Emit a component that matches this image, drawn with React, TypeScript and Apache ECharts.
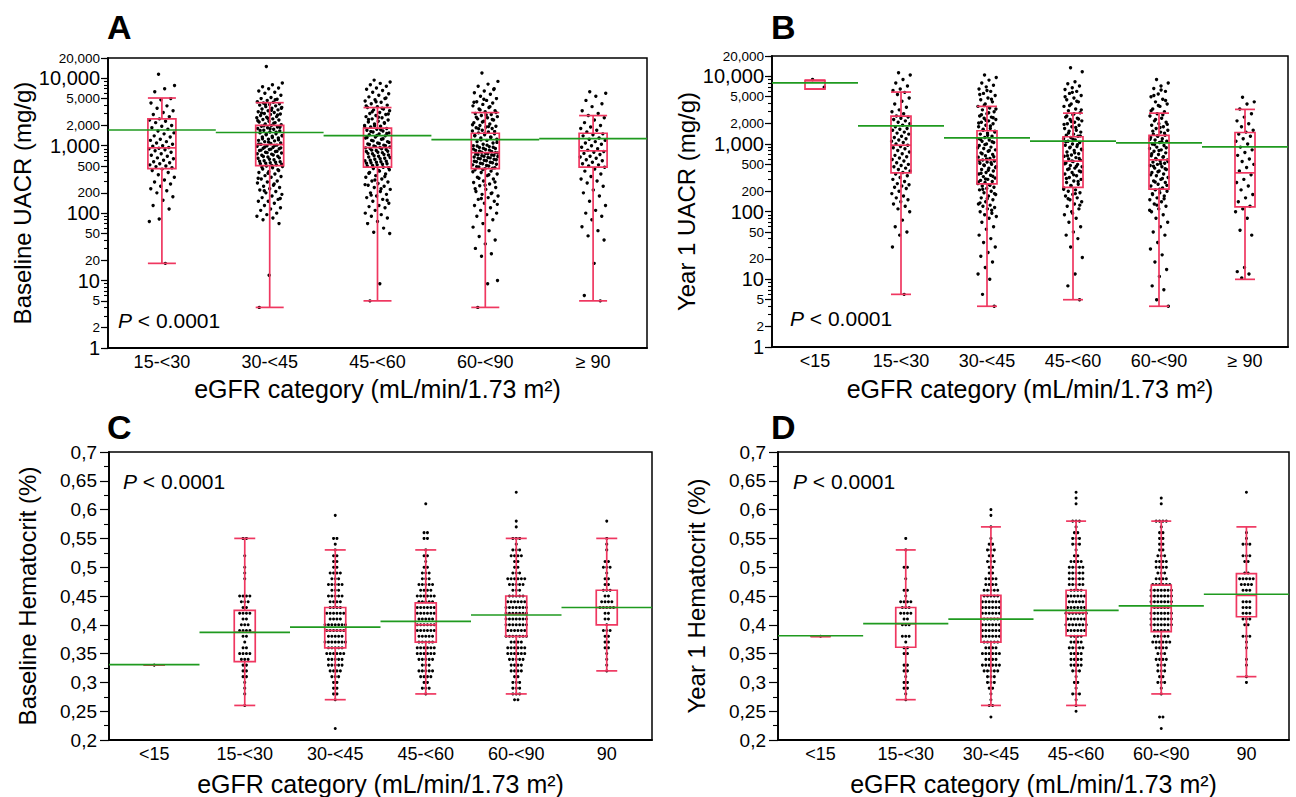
import { useEffect, useRef } from 'react';
import * as echarts from 'echarts';

const FONT = '"Liberation Sans", Arial, Helvetica, sans-serif';
const RED = '#ef3760';
const GREEN = '#1f9a1f';

// ---------- categories ----------
const catA = ['15-<30', '30-<45', '45-<60', '60-<90', '≥ 90'];
const catB = ['<15', '15-<30', '30-<45', '45-<60', '60-<90', '≥ 90'];
const catCD = ['<15', '15-<30', '30-<45', '45-<60', '60-<90', '90'];

// ---------- tick labels ----------
const uacrLabels = [1, 2, 5, 10, 20, 50, 100, 200, 500, 1000, 2000, 5000, 10000, 20000];
const UACR_MAX = 20000;
const HCT_MIN = 0.2;
const HCT_MAX = 0.7;
const HCT_STEP = 0.05;

// ---------- Panel A: baseline UACR (mg/g) ----------
const uacrA_15_30 = [11500, 7800, 7000, 6300, 5000, 4800, 4300, 3900, 3600, 3300, 3100, 2900, 2700, 2500, 2400, 2300, 2200, 2000, 1950, 1850, 1750, 1650, 1550, 1500, 1400, 1350, 1250, 1200, 1150, 1100, 1050, 1000, 980, 940, 920, 900, 870, 840, 800, 760, 720, 700, 660, 640, 610, 580, 560, 540, 520, 500, 490, 470, 450, 430, 400, 370, 340, 310, 290, 270, 250, 230, 215, 200, 175, 155, 130, 115, 82, 75, 18];
const uacrA_30_45 = [15000, 8500, 8000, 7500, 7200, 7000, 6500, 6200, 6000, 5600, 5200, 5000, 4900, 4700, 4500, 4400, 4300, 4200, 4100, 4000, 3900, 3800, 3700, 3600, 3500, 3400, 3300, 3200, 3100, 3000, 2950, 2900, 2800, 2700, 2650, 2600, 2500, 2450, 2400, 2300, 2250, 2200, 2100, 2050, 2000, 1950, 1900, 1850, 1800, 1750, 1700, 1650, 1600, 1550, 1500, 1450, 1400, 1380, 1350, 1300, 1250, 1200, 1180, 1150, 1100, 1080, 1050, 1020, 1000, 980, 950, 920, 900, 880, 850, 820, 800, 780, 750, 720, 700, 680, 650, 620, 600, 580, 560, 540, 520, 500, 490, 470, 450, 430, 410, 400, 380, 360, 350, 340, 320, 300, 290, 280, 260, 250, 240, 230, 220, 210, 200, 190, 180, 170, 160, 150, 150, 140, 130, 120, 115, 110, 100, 95, 90, 85, 80, 70, 12, 4,
  4800, 4100, 3600, 3350, 3050, 2850, 2550, 2350, 2150, 1980, 1880, 1780, 1680, 1580, 1480, 1420, 1320, 1270, 1220, 1130, 1060, 1010, 960, 930, 890, 860, 830, 790, 760, 730, 690, 660, 630, 590, 570, 550, 530, 510, 480, 440, 390, 330, 270, 215, 165];
const uacrA_45_60 = [9400, 8800, 8400, 8000, 7600, 7200, 6900, 6600, 6200, 5900, 5600, 5300, 5000, 4800, 4600, 4400, 4200, 4000, 3800, 3700, 3500, 3400, 3300, 3100, 3000, 2900, 2800, 2700, 2600, 2500, 2400, 2300, 2250, 2200, 2100, 2000, 1950, 1900, 1800, 1750, 1700, 1650, 1600, 1550, 1500, 1450, 1400, 1350, 1300, 1250, 1200, 1150, 1100, 1060, 1020, 990, 960, 940, 910, 880, 850, 820, 790, 760, 730, 700, 680, 650, 630, 600, 580, 560, 540, 520, 500, 480, 460, 440, 420, 400, 380, 360, 340, 320, 300, 290, 275, 260, 250, 240, 225, 210, 200, 190, 180, 170, 160, 150, 140, 130, 125, 120, 110, 100, 95, 90, 85, 75, 70, 60, 52, 50, 9, 5,
  5100, 4500, 3900, 3600, 3200, 2950, 2650, 2450, 2150, 1980, 1870, 1720, 1620, 1520, 1420, 1320, 1270, 1180, 1120, 1080, 1040, 1000, 970, 930, 900, 860, 830, 800, 770, 740, 710, 670, 640, 610, 590, 570, 550, 530, 510, 470, 430, 390, 350, 310, 265, 230, 185, 155];
const uacrA_60_90 = [12000, 9000, 8200, 7600, 7000, 6500, 6100, 5800, 5400, 5000, 4700, 4500, 4300, 4100, 3900, 3700, 3500, 3300, 3200, 3000, 2900, 2800, 2700, 2600, 2500, 2400, 2300, 2200, 2100, 2000, 1950, 1900, 1850, 1800, 1700, 1650, 1600, 1550, 1500, 1450, 1400, 1350, 1300, 1250, 1200, 1150, 1100, 1050, 1000, 970, 940, 910, 880, 850, 820, 800, 780, 760, 740, 720, 700, 680, 660, 640, 620, 600, 580, 560, 540, 520, 500, 485, 470, 455, 440, 420, 400, 380, 360, 340, 320, 300, 285, 270, 255, 240, 225, 210, 200, 190, 180, 170, 160, 150, 140, 130, 120, 110, 100, 95, 90, 80, 70, 62, 55, 45, 40, 35, 30, 25, 23, 10, 9, 4,
  6800, 4900, 4400, 3800, 3400, 3100, 2850, 2650, 2450, 2250, 2050, 1920, 1780, 1620, 1520, 1420, 1320, 1220, 1120, 1020, 990, 950, 920, 890, 860, 830, 790, 770, 750, 730, 710, 690, 670, 650, 630, 610, 590, 570, 550, 530, 510, 490, 465, 445, 410, 370, 330, 290, 260, 230, 195, 165, 135];
const uacrA_ge90 = [6300, 6000, 5400, 4700, 4200, 3800, 3300, 3000, 2800, 2600, 2400, 2200, 2000, 1900, 1800, 1700, 1600, 1500, 1450, 1400, 1300, 1250, 1200, 1150, 1100, 1050, 1000, 950, 900, 860, 820, 800, 770, 740, 700, 680, 650, 620, 600, 570, 540, 520, 500, 480, 450, 420, 380, 350, 320, 300, 280, 250, 220, 200, 180, 150, 130, 110, 100, 90, 80, 63, 55, 46, 40, 18, 6, 5];
const uacrA = [uacrA_15_30, uacrA_30_45, uacrA_45_60, uacrA_60_90, uacrA_ge90];
// [low whisker, Q1, median, Q3, high whisker]
const boxA = [
  [18, 457, 930, 2500, 5100],
  [4, 507, 1040, 2000, 4350],
  [5, 480, 940, 1820, 3680],
  [4, 457, 790, 1530, 3100],
  [5, 480, 840, 1530, 2800],
];
const meanA = [1710, 1570, 1410, 1230, 1275];

// ---------- Panel B: year 1 UACR (mg/g) ----------
const uacrB_lt15 = [9000, 6900];
const uacrB_15_30 = [11300, 10500, 9000, 8000, 7200, 6500, 6200, 5800, 5400, 4800, 4300, 3900, 3500, 3200, 3000, 2800, 2600, 2500, 2400, 2300, 2200, 2100, 2000, 1900, 1800, 1700, 1650, 1600, 1500, 1450, 1400, 1300, 1250, 1200, 1150, 1100, 1050, 1000, 960, 920, 880, 850, 800, 760, 720, 680, 650, 620, 590, 560, 530, 500, 480, 460, 440, 420, 400, 380, 360, 340, 320, 300, 280, 260, 250, 240, 230, 220, 200, 185, 170, 160, 150, 140, 130, 120, 110, 100, 75, 60, 50, 45, 30, 6];
const uacrB_30_45 = [10500, 9600, 8800, 8000, 7400, 7000, 6500, 6000, 5600, 5200, 4800, 4500, 4200, 3900, 3600, 3400, 3200, 3000, 2800, 2600, 2500, 2400, 2300, 2200, 2100, 2000, 1900, 1800, 1700, 1600, 1500, 1450, 1400, 1300, 1250, 1200, 1150, 1100, 1050, 1000, 950, 900, 860, 820, 780, 740, 700, 670, 640, 610, 580, 560, 540, 520, 500, 480, 460, 440, 420, 400, 380, 360, 345, 330, 315, 300, 290, 280, 270, 260, 250, 240, 230, 220, 210, 200, 190, 180, 170, 160, 150, 140, 130, 125, 120, 115, 110, 100, 95, 90, 85, 80, 70, 60, 55, 45, 40, 35, 30, 25, 22, 18, 15, 12, 10, 6, 4,
  6200, 5400, 4600, 3700, 3300, 2900, 2700, 2450, 2250, 2050, 1850, 1650, 1550, 1350, 1180, 1080, 980, 880, 800, 720, 650, 600, 570, 530, 490, 450, 410, 370, 335, 305, 275, 245, 215, 185, 155, 135, 105];
const uacrB_45_60 = [13400, 11700, 8300, 7800, 7200, 6800, 6400, 6000, 5600, 5200, 4800, 4500, 4200, 3900, 3600, 3300, 3100, 2900, 2700, 2500, 2400, 2300, 2200, 2100, 2000, 1900, 1800, 1700, 1600, 1550, 1500, 1400, 1350, 1300, 1250, 1200, 1150, 1100, 1050, 1000, 960, 920, 880, 840, 800, 760, 720, 690, 660, 630, 600, 575, 550, 525, 500, 480, 460, 440, 420, 400, 380, 360, 340, 320, 300, 285, 270, 255, 240, 225, 210, 200, 190, 180, 170, 160, 150, 140, 130, 120, 110, 100, 90, 80, 70, 60, 50, 45, 40, 30, 21, 12, 8, 5,
  5800, 5000, 4300, 3700, 3200, 2800, 2600, 2350, 2150, 1950, 1750, 1450, 1320, 1180, 1080, 980, 900, 820, 740, 670, 610, 560, 510, 470, 430, 390, 350, 310, 280, 245, 215, 185, 155, 125, 95];
const uacrB_60_90 = [9000, 8000, 7200, 6600, 6000, 5500, 5000, 4600, 4200, 3900, 3600, 3300, 3000, 2800, 2600, 2400, 2200, 2100, 2000, 1900, 1800, 1700, 1600, 1500, 1400, 1350, 1300, 1250, 1200, 1150, 1100, 1050, 1000, 950, 900, 860, 820, 780, 740, 700, 670, 640, 610, 580, 560, 540, 520, 500, 480, 460, 440, 420, 400, 380, 360, 340, 320, 300, 285, 270, 255, 240, 225, 210, 200, 190, 180, 170, 160, 150, 140, 130, 120, 110, 100, 90, 80, 70, 60, 50, 45, 35, 28, 23, 18, 14, 11, 8, 7, 5, 4,
  6300, 5200, 4400, 3700, 3100, 2700, 2300, 1950, 1750, 1550, 1450, 1320, 1180, 1080, 980, 880, 800, 720, 650, 590, 550, 510, 470, 430, 390, 350, 310, 275, 245, 215, 185, 155, 125, 105];
const uacrB_ge90 = [4900, 4200, 3900, 3300, 2800, 2500, 2200, 2000, 1800, 1600, 1500, 1400, 1300, 1200, 1100, 1000, 900, 820, 750, 680, 600, 550, 500, 450, 400, 350, 300, 270, 240, 210, 180, 160, 140, 120, 110, 100, 80, 53, 45, 15, 13, 12, 10.5];
const uacrB = [uacrB_lt15, uacrB_15_30, uacrB_30_45, uacrB_45_60, uacrB_60_90, uacrB_ge90];
const boxB = [
  [6500, 6500, 8700, 8700, 8700],
  [6, 375, 960, 2590, 5860],
  [4, 258, 584, 1570, 3600],
  [5, 228, 558, 1280, 2860],
  [4, 215, 584, 1340, 2860],
  [10, 118, 375, 1480, 3250],
];
const meanB = [8040, 1860, 1230, 1100, 1040, 910];

// ---------- Panel C: baseline hematocrit, [value, count] ----------
const hctC_lt15 = [[0.33, 1]];
const hctC_15_30 = [[0.55, 2], [0.52, 1], [0.50, 1], [0.49, 1], [0.48, 1], [0.45, 4], [0.44, 3], [0.43, 2], [0.42, 4], [0.41, 2], [0.40, 3], [0.39, 4], [0.38, 2], [0.37, 1], [0.36, 2], [0.35, 4], [0.34, 3], [0.33, 2], [0.32, 2], [0.31, 2], [0.30, 1], [0.29, 1], [0.28, 1], [0.26, 1]];
const hctC_30_45 = [[0.59, 1], [0.55, 2], [0.54, 1], [0.53, 1], [0.52, 2], [0.51, 2], [0.50, 2], [0.49, 4], [0.48, 3], [0.47, 5], [0.46, 3], [0.45, 5], [0.44, 4], [0.43, 4], [0.42, 6], [0.41, 4], [0.40, 7], [0.39, 6], [0.38, 5], [0.37, 7], [0.36, 5], [0.35, 6], [0.34, 5], [0.33, 5], [0.32, 4], [0.31, 3], [0.30, 2], [0.29, 2], [0.28, 2], [0.27, 1], [0.22, 1]];
const hctC_45_60 = [[0.61, 1], [0.56, 2], [0.55, 2], [0.53, 1], [0.52, 2], [0.51, 1], [0.50, 2], [0.49, 3], [0.48, 3], [0.47, 5], [0.46, 4], [0.45, 6], [0.44, 5], [0.43, 6], [0.42, 6], [0.41, 5], [0.40, 6], [0.39, 6], [0.38, 5], [0.37, 5], [0.36, 6], [0.35, 6], [0.34, 5], [0.33, 3], [0.32, 5], [0.31, 4], [0.30, 2], [0.29, 3], [0.28, 1]];
const hctC_60_90 = [[0.63, 1], [0.58, 1], [0.57, 1], [0.55, 3], [0.54, 1], [0.53, 3], [0.52, 4], [0.51, 2], [0.50, 2], [0.49, 3], [0.48, 6], [0.47, 5], [0.46, 3], [0.45, 5], [0.44, 6], [0.43, 7], [0.42, 7], [0.41, 7], [0.40, 7], [0.39, 6], [0.38, 7], [0.37, 4], [0.36, 6], [0.35, 6], [0.34, 5], [0.33, 4], [0.32, 4], [0.31, 2], [0.30, 3], [0.29, 3], [0.28, 3], [0.27, 2]];
const hctC_ge90 = [[0.58, 1], [0.55, 1], [0.54, 1], [0.53, 1], [0.51, 2], [0.50, 3], [0.49, 1], [0.48, 2], [0.47, 2], [0.46, 3], [0.45, 2], [0.44, 4], [0.43, 5], [0.42, 2], [0.41, 2], [0.40, 1], [0.39, 3], [0.38, 2], [0.37, 2], [0.36, 2], [0.35, 1], [0.34, 1], [0.33, 1], [0.32, 1]];
const hctC = [hctC_lt15, hctC_15_30, hctC_30_45, hctC_45_60, hctC_60_90, hctC_ge90];
const boxC = [
  [0.33, 0.33, 0.33, 0.33, 0.33],
  [0.26, 0.336, 0.387, 0.425, 0.55],
  [0.27, 0.36, 0.39, 0.43, 0.53],
  [0.28, 0.37, 0.40, 0.438, 0.53],
  [0.28, 0.38, 0.418, 0.45, 0.55],
  [0.32, 0.40, 0.43, 0.46, 0.55],
];
const meanC = [0.331, 0.387, 0.396, 0.406, 0.417, 0.43];

// ---------- Panel D: year 1 hematocrit, [value, count] ----------
const hctD_lt15 = [[0.38, 1]];
const hctD_15_30 = [[0.55, 1], [0.53, 1], [0.50, 2], [0.48, 1], [0.46, 2], [0.45, 1], [0.44, 4], [0.43, 3], [0.42, 4], [0.41, 2], [0.40, 3], [0.38, 3], [0.37, 1], [0.36, 2], [0.35, 2], [0.33, 2], [0.32, 2], [0.31, 1], [0.30, 2], [0.29, 2], [0.28, 1], [0.27, 1]];
const hctD_30_45 = [[0.60, 1], [0.59, 1], [0.57, 1], [0.55, 1], [0.54, 2], [0.53, 3], [0.52, 2], [0.51, 3], [0.50, 2], [0.49, 2], [0.48, 4], [0.47, 4], [0.46, 5], [0.45, 5], [0.44, 6], [0.43, 6], [0.42, 6], [0.41, 5], [0.40, 6], [0.39, 6], [0.38, 6], [0.37, 5], [0.36, 4], [0.35, 6], [0.34, 4], [0.33, 6], [0.32, 5], [0.31, 3], [0.30, 3], [0.29, 2], [0.28, 1], [0.27, 1], [0.26, 2], [0.24, 1]];
const hctD_45_60 = [[0.63, 1], [0.62, 1], [0.61, 1], [0.58, 3], [0.57, 1], [0.56, 2], [0.55, 3], [0.54, 3], [0.53, 1], [0.52, 2], [0.51, 4], [0.50, 5], [0.49, 5], [0.48, 5], [0.47, 5], [0.46, 4], [0.45, 6], [0.44, 5], [0.43, 6], [0.42, 7], [0.41, 6], [0.40, 7], [0.39, 6], [0.38, 4], [0.37, 4], [0.36, 5], [0.35, 4], [0.34, 4], [0.33, 4], [0.32, 3], [0.31, 1], [0.30, 2], [0.29, 1], [0.28, 3], [0.27, 1], [0.26, 1], [0.25, 1]];
const hctD_60_90 = [[0.62, 1], [0.61, 1], [0.58, 4], [0.57, 1], [0.56, 2], [0.55, 2], [0.54, 2], [0.53, 2], [0.52, 3], [0.51, 4], [0.50, 4], [0.49, 3], [0.48, 4], [0.47, 6], [0.46, 7], [0.45, 7], [0.44, 7], [0.43, 5], [0.42, 7], [0.41, 7], [0.40, 7], [0.39, 5], [0.38, 5], [0.37, 6], [0.36, 4], [0.35, 3], [0.34, 4], [0.33, 3], [0.32, 3], [0.31, 2], [0.30, 3], [0.29, 1], [0.28, 1], [0.24, 2], [0.22, 1]];
const hctD_ge90 = [[0.63, 1], [0.56, 1], [0.55, 1], [0.54, 3], [0.52, 3], [0.51, 2], [0.49, 2], [0.48, 5], [0.47, 4], [0.46, 3], [0.44, 3], [0.43, 3], [0.42, 3], [0.41, 3], [0.40, 2], [0.38, 3], [0.37, 1], [0.36, 1], [0.34, 1], [0.33, 1], [0.31, 1], [0.30, 1]];
const hctD = [hctD_lt15, hctD_15_30, hctD_30_45, hctD_45_60, hctD_60_90, hctD_ge90];
const boxD = [
  [0.38, 0.38, 0.38, 0.38, 0.38],
  [0.27, 0.361, 0.402, 0.43, 0.53],
  [0.26, 0.37, 0.411, 0.451, 0.57],
  [0.26, 0.381, 0.421, 0.46, 0.58],
  [0.28, 0.388, 0.43, 0.469, 0.58],
  [0.31, 0.414, 0.451, 0.489, 0.57],
];
const meanD = [0.381, 0.402, 0.41, 0.425, 0.433, 0.453];

// ---------- helpers ----------
const lg = (v: number) => Math.log10(v);
const ident = (v: number) => v;
const comma = (n: number) => String(n).replace(/\B(?=(\d{3})+(?!\d))/g, ',');

const uacrMinorTicks: number[] = [];
for (let e = 0; e <= 4; e++) {
  for (let m = 1; m <= 9; m++) {
    const v = m * Math.pow(10, e);
    if (v <= UACR_MAX) uacrMinorTicks.push(v);
  }
}

const fmtUacr = (v: number) => {
  const n = Math.round(Math.pow(10, v));
  const s = comma(n);
  return /^10*$/.test(String(n)) ? `{b|${s}}` : `{s|${s}}`;
};
const fmtHct = (v: number) => String(+v.toFixed(2)).replace('.', ',');

const jitterDots = (halfFrac: number, r: number) => (_p: any, api: any) => {
  const c = api.coord([api.value(0), api.value(1)]);
  const bw = api.size([1, 0])[0];
  const k = api.value(2);
  const u = (k * 0.6180339887 + 0.37) % 1;
  const off = (u - 0.5) * 2 * halfFrac * bw;
  return { type: 'circle', shape: { cx: c[0] + off, cy: c[1], r }, style: { fill: '#000' } };
};

const rowDots = (gap: number, r: number) => (_p: any, api: any) => {
  const c = api.coord([api.value(0), api.value(1)]);
  const k = api.value(2);
  const n = api.value(3);
  const off = (k - (n - 1) / 2) * gap;
  return { type: 'circle', shape: { cx: c[0] + off, cy: c[1], r }, style: { fill: '#000' } };
};

const boxRender = (w: number) => (_p: any, api: any) => {
  const ci = api.value(0);
  const x = api.coord([ci, api.value(1)])[0];
  const y = [1, 2, 3, 4, 5].map((d) => api.coord([ci, api.value(d)])[1]);
  const [yLow, yQ1, yMed, yQ3, yHigh] = y;
  const st = { stroke: RED, lineWidth: 1.7, fill: 'none' };
  const h = w / 2;
  return {
    type: 'group',
    children: [
      { type: 'line', shape: { x1: x, y1: yHigh, x2: x, y2: yQ3 }, style: st },
      { type: 'line', shape: { x1: x, y1: yQ1, x2: x, y2: yLow }, style: st },
      { type: 'line', shape: { x1: x - h, y1: yHigh, x2: x + h, y2: yHigh }, style: st },
      { type: 'line', shape: { x1: x - h, y1: yLow, x2: x + h, y2: yLow }, style: st },
      { type: 'rect', shape: { x: x - h, y: yQ3, width: w, height: yQ1 - yQ3 }, style: st },
      { type: 'line', shape: { x1: x - h, y1: yMed, x2: x + h, y2: yMed }, style: st },
    ],
  };
};

const meanRender = (_p: any, api: any) => {
  const c = api.coord([api.value(0), api.value(1)]);
  const bw = api.size([1, 0])[0];
  return {
    type: 'line',
    shape: { x1: c[0] - bw / 2, y1: c[1], x2: c[0] + bw / 2, y2: c[1] },
    style: { stroke: GREEN, lineWidth: 1.7 },
  };
};

const grids = [
  { left: 108, top: 58, width: 539, height: 290 },
  { left: 772, top: 56, width: 516, height: 291 },
  { left: 109, top: 452, width: 543, height: 289 },
  { left: 778, top: 452, width: 511, height: 289 },
];

const X_NAME = 'eGFR category (mL/min/1.73 m²)';

const makeX = (g: number, cats: string[], nameGap: number) => ({
  type: 'category',
  gridIndex: g,
  data: cats,
  boundaryGap: true,
  axisLine: { lineStyle: { color: '#000', width: 1.8 } },
  axisTick: { length: 6, lineStyle: { color: '#000', width: 1.4 } },
  axisLabel: { color: '#000', fontSize: 18, fontFamily: FONT, margin: 5, interval: 0 },
  splitLine: { show: false },
  name: X_NAME,
  nameLocation: 'middle',
  nameGap,
  nameTextStyle: { color: '#000', fontSize: 25, fontFamily: FONT },
});

const makeUacrY = (g: number, name: string, nameGap: number) => [
  {
    type: 'value',
    gridIndex: g,
    position: 'left',
    min: 0,
    max: lg(UACR_MAX),
    axisLine: { show: true, lineStyle: { color: '#000', width: 1.8 } },
    axisTick: { show: true, customValues: uacrLabels.map(lg), length: 7, lineStyle: { color: '#000', width: 1.2 } },
    axisLabel: {
      customValues: uacrLabels.map(lg),
      formatter: fmtUacr,
      margin: 8,
      color: '#000',
      rich: {
        b: { fontSize: 20, fontFamily: FONT, color: '#000' },
        s: { fontSize: 13.5, fontFamily: FONT, color: '#000' },
      },
    },
    splitLine: { show: false },
    name,
    nameLocation: 'middle',
    nameGap,
    nameTextStyle: { color: '#000', fontSize: 24, fontFamily: FONT },
  },
  {
    type: 'value',
    gridIndex: g,
    position: 'left',
    min: 0,
    max: lg(UACR_MAX),
    axisLine: { show: false },
    axisTick: { show: true, customValues: uacrMinorTicks.map(lg), length: 4, lineStyle: { color: '#000', width: 1.1 } },
    axisLabel: { show: false },
    splitLine: { show: false },
  },
];

const makeHctY = (g: number, name: string, nameGap: number) => ({
  type: 'value',
  gridIndex: g,
  min: HCT_MIN,
  max: HCT_MAX,
  interval: HCT_STEP,
  axisLine: { show: true, lineStyle: { color: '#000', width: 1.8 } },
  axisTick: { show: true, length: 9, lineStyle: { color: '#000', width: 1.2 } },
  minorTick: { show: true, splitNumber: 2, length: 5, lineStyle: { color: '#000', width: 1.1 } },
  axisLabel: { formatter: fmtHct, margin: 12, color: '#000', fontSize: 19, fontFamily: FONT },
  splitLine: { show: false },
  minorSplitLine: { show: false },
  name,
  nameLocation: 'middle',
  nameGap,
  nameTextStyle: { color: '#000', fontSize: 24, fontFamily: FONT },
});

const uacrSeries = (g: number, yi: number, lists: number[][], boxes: number[][], means: number[], boxW: number, half: number) => [
  {
    type: 'custom',
    xAxisIndex: g,
    yAxisIndex: yi,
    silent: true,
    z: 2,
    encode: { x: 0, y: 1 },
    data: lists.flatMap((arr, ci) => arr.map((v, i) => [ci, lg(v), i])),
    renderItem: jitterDots(half, 1.7),
  },
  {
    type: 'custom',
    xAxisIndex: g,
    yAxisIndex: yi,
    silent: true,
    z: 3,
    encode: { x: 0, y: [1, 2, 3, 4, 5] },
    data: boxes.map((b, ci) => [ci, ...b.map(lg)]),
    renderItem: boxRender(boxW),
  },
  {
    type: 'custom',
    xAxisIndex: g,
    yAxisIndex: yi,
    silent: true,
    z: 4,
    encode: { x: 0, y: 1 },
    data: means.map((m, ci) => [ci, lg(m)]),
    renderItem: meanRender,
  },
];

const hctSeries = (g: number, yi: number, lists: number[][][], boxes: number[][], means: number[], boxW: number) => [
  {
    type: 'custom',
    xAxisIndex: g,
    yAxisIndex: yi,
    silent: true,
    z: 2,
    encode: { x: 0, y: 1 },
    data: lists.flatMap((rows, ci) =>
      rows.flatMap(([v, n]) => Array.from({ length: n }, (_, k) => [ci, v, k, n]))
    ),
    renderItem: rowDots(3.4, 1.5),
  },
  {
    type: 'custom',
    xAxisIndex: g,
    yAxisIndex: yi,
    silent: true,
    z: 3,
    encode: { x: 0, y: [1, 2, 3, 4, 5] },
    data: boxes.map((b, ci) => [ci, ...b.map(ident)]),
    renderItem: boxRender(boxW),
  },
  {
    type: 'custom',
    xAxisIndex: g,
    yAxisIndex: yi,
    silent: true,
    z: 4,
    encode: { x: 0, y: 1 },
    data: means.map((m, ci) => [ci, m]),
    renderItem: meanRender,
  },
];

const letter = (t: string, x: number, y: number) => ({
  type: 'text',
  x,
  y,
  style: { text: t, fontSize: 34, fontWeight: 'bold', fontFamily: FONT, fill: '#000', verticalAlign: 'middle' },
});
const pText = (x: number, y: number) => ({
  type: 'text',
  x,
  y,
  style: {
    text: '{i|P} < 0.0001',
    fontSize: 21,
    fontFamily: FONT,
    fill: '#000',
    verticalAlign: 'middle',
    rich: { i: { fontStyle: 'italic', fontSize: 21, fontFamily: FONT, fill: '#000' } },
  },
});

export default function App() {
  const ref = useRef<HTMLDivElement>(null);
  useEffect(() => {
    if (!ref.current) return;
    const chart = echarts.init(ref.current, undefined, { renderer: 'svg' });
    const option: any = {
      animation: false,
      backgroundColor: '#fff',
      grid: grids.map((g) => ({ ...g, show: true, borderColor: '#000', borderWidth: 1.5, backgroundColor: 'transparent' })),
      xAxis: [makeX(0, catA, 28), makeX(1, catB, 29), makeX(2, catCD, 31), makeX(3, catCD, 31)],
      yAxis: [
        ...makeUacrY(0, 'Baseline UACR (mg/g)', 67),
        ...makeUacrY(1, 'Year 1 UACR (mg/g)', 58),
        makeHctY(2, 'Baseline Hematocrit (%)', 70),
        makeHctY(3, 'Year 1 Hematocrit (%)', 70),
      ],
      series: [
        ...uacrSeries(0, 0, uacrA, boxA, meanA, 28, 0.12),
        ...uacrSeries(1, 2, uacrB, boxB, meanB, 20, 0.11),
        ...hctSeries(2, 4, hctC, boxC, meanC, 21),
        ...hctSeries(3, 5, hctD, boxD, meanD, 20),
      ],
      graphic: [
        letter('A', 107, 27),
        letter('B', 771, 27),
        letter('C', 107, 427),
        letter('D', 771, 427),
        pText(118, 320),
        pText(790, 318),
        pText(123, 481),
        pText(793, 481),
      ],
    };
    chart.setOption(option);
    return () => chart.dispose();
  }, []);
  return <div ref={ref} style={{ position: 'fixed', left: 0, top: 0, width: 1296, height: 797 }} />;
}
